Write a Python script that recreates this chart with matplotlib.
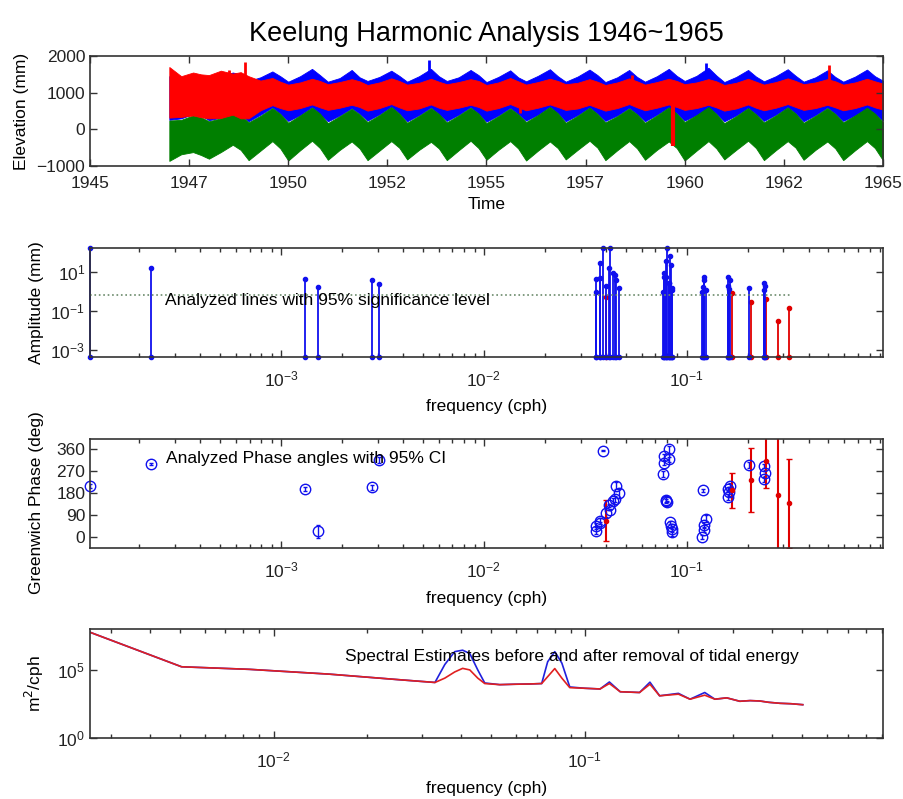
import matplotlib
matplotlib.use("Agg")
from matplotlib import pyplot as plt
from matplotlib.ticker import FixedLocator, NullLocator, LogLocator, NullFormatter

plt.rcParams["font.family"] = ["Liberation Sans", "DejaVu Sans"]
plt.rcParams["font.size"] = 12.5

BLUE = "#0000ff"
GREEN = "#007f00"
RED = "#ff0000"
AXIS = "#333333"

# =========================
# Hourly elevation record, drawn as envelopes (upper/lower) per season
# =========================

env_years = list(range(1947, 1965))
env_phase = [0.0, 0.3, 0.6, 0.8]

# observed elevation (blue)
obs_hi = [
    [1450, 1400, 1480, 1420], [1380, 1450, 1550, 1500], [1320, 1420, 1580, 1450],
    [1300, 1450, 1650, 1480], [1300, 1400, 1620, 1420], [1320, 1430, 1600, 1460],
    [1300, 1450, 1650, 1450], [1320, 1420, 1620, 1480], [1290, 1430, 1610, 1420],
    [1310, 1460, 1640, 1450], [1300, 1440, 1630, 1480], [1290, 1420, 1620, 1430],
    [1300, 1450, 1650, 1460], [1320, 1460, 1680, 1470], [1290, 1430, 1620, 1440],
    [1310, 1450, 1640, 1460], [1300, 1420, 1610, 1430], [1300, 1440, 1630, 1450],
]
obs_hi_end = 1330
obs_lo = [
    [260, 300, 420, 380], [250, 320, 480, 400], [220, 400, 600, 430],
    [230, 390, 610, 420], [220, 380, 580, 430], [240, 410, 620, 440],
    [220, 390, 600, 420], [230, 400, 610, 430], [210, 380, 590, 420],
    [240, 400, 620, 440], [220, 390, 600, 430], [230, 380, 590, 420],
    [220, 400, 610, 440], [240, 390, 600, 430], [220, 380, 590, 420],
    [230, 400, 610, 440], [220, 390, 600, 430], [230, 380, 590, 420],
]
obs_lo_end = 240

# residual (green)
res_hi = [
    [240, 260, 380, 330], [220, 300, 450, 380], [190, 370, 580, 420],
    [180, 380, 595, 430], [170, 360, 560, 410], [200, 390, 610, 430],
    [180, 370, 580, 420], [190, 380, 590, 430], [170, 360, 570, 410],
    [200, 390, 610, 440], [180, 370, 590, 420], [190, 360, 570, 410],
    [180, 380, 600, 430], [200, 390, 610, 420], [170, 360, 580, 410],
    [190, 380, 600, 430], [180, 370, 580, 420], [190, 380, 590, 430],
]
res_hi_end = 200
res_lo = [
    [-860, -680, -620, -700], [-800, -620, -420, -560], [-840, -580, -320, -520],
    [-850, -570, -310, -510], [-830, -560, -330, -520], [-840, -580, -320, -500],
    [-820, -560, -340, -520], [-840, -570, -310, -510], [-830, -560, -320, -520],
    [-850, -580, -330, -510], [-820, -560, -310, -500], [-840, -570, -320, -520],
    [-830, -560, -330, -510], [-850, -580, -320, -520], [-820, -560, -310, -510],
    [-840, -570, -320, -500], [-830, -560, -330, -520], [-840, -570, -320, -510],
]
res_lo_end = -840

# predicted / filtered (red)
prd_hi = [
    [1700, 1450, 1550, 1500], [1480, 1600, 1520, 1560], [1450, 1330, 1400, 1300],
    [1220, 1280, 1380, 1320], [1230, 1290, 1370, 1310], [1210, 1280, 1390, 1320],
    [1220, 1270, 1380, 1300], [1230, 1290, 1370, 1320], [1210, 1280, 1400, 1310],
    [1220, 1290, 1380, 1320], [1230, 1270, 1370, 1300], [1210, 1280, 1390, 1310],
    [1220, 1290, 1380, 1320], [1230, 1280, 1370, 1310], [1210, 1270, 1380, 1300],
    [1220, 1290, 1390, 1320], [1230, 1280, 1370, 1310], [1220, 1280, 1380, 1310],
]
prd_hi_end = 1250
prd_lo = [
    [320, 340, 380, 330], [300, 310, 400, 300], [300, 520, 660, 580],
    [520, 580, 680, 600], [530, 590, 670, 610], [510, 580, 690, 600],
    [520, 570, 680, 590], [530, 590, 670, 610], [510, 580, 690, 600],
    [520, 590, 680, 610], [530, 570, 670, 590], [510, 580, 690, 600],
    [520, 590, 680, 610], [530, 580, 670, 600], [510, 570, 680, 590],
    [520, 590, 690, 610], [530, 580, 670, 600], [520, 580, 680, 600],
]
prd_lo_end = 540

# short events in the record
spike_t = [1953.55, 1960.55, 1948.9, 1948.5, 1955.85, 1958.66, 1959.7, 1963.65]
spike_lo = [1500, 1500, 1300, 1300, 450, 1200, -450, 1200]
spike_hi = [1900, 1800, 1850, 1620, 700, 1480, 700, 1750]
spike_series = ["obs", "obs", "prd", "prd", "prd", "prd", "prd", "prd"]

year_ticks = [1945, 1947.5, 1950, 1952.5, 1955, 1957.5, 1960, 1962.5, 1965]
year_labels = ["1945", "1947", "1950", "1952", "1955", "1957", "1960", "1962", "1965"]

# =========================
# Constituents: frequency (cph), amplitude (mm), Greenwich phase and 95% CI (deg)
# =========================

names = ["SA", "SSA", "MSM", "MM", "MSF", "MF",
         "2Q1", "SIG1", "Q1", "RHO1", "O1", "BET1", "NO1", "P1", "K1", "J1", "SO1", "OO1", "UPS1",
         "EPS2", "2N2", "MU2", "N2", "NU2", "M2", "LDA2", "L2", "S2", "K2", "MSN2", "ETA2",
         "MO3", "M3", "SO3", "MK3", "SK3",
         "MN4", "M4", "SN4", "MS4", "S4",
         "2MK5", "2SK5",
         "2MN6", "M6", "2MS6", "2SM6",
         "3MK7", "M8"]
freq = [0.0001141, 0.0002282, 0.0013098, 0.0015122, 0.0028219, 0.0030501,
        0.0357064, 0.0359087, 0.0372185, 0.0374209, 0.0387307, 0.0400404, 0.0402686,
        0.0415526, 0.0417807, 0.0432929, 0.0446027, 0.0448308, 0.0463430,
        0.0761773, 0.0774871, 0.0776895, 0.0789992, 0.0792016, 0.0805114, 0.0818212,
        0.0820236, 0.0833333, 0.0835615, 0.0848455, 0.0850736,
        0.1192421, 0.1207671, 0.1220640, 0.1222921, 0.1251141,
        0.1595106, 0.1610228, 0.1623326, 0.1638447, 0.1666667,
        0.2028035, 0.2084474,
        0.2400221, 0.2415342, 0.2443561, 0.2471781,
        0.2833149, 0.3220456]
amp = [175, 17.3, 4.5, 1.8, 4.1, 2.6,
       1.0, 4.3, 31, 4.9, 175, 2.0, 0.54, 16, 170, 8.9, 7.2, 4.0, 1.5,
       1.0, 5.5, 8.9, 40, 5.5, 172, 2.7, 2.7, 70, 24, 1.2, 1.6,
       1.0, 1.8, 4.0, 5.9, 1.3,
       2.0, 5.9, 1.4, 4.0, 0.9,
       1.5, 0.30,
       1.2, 2.9, 1.95, 0.45,
       0.03, 0.14]
phase = [210, 299, 197, 23, 204, 315,
         26, 44, 57, 67, 353, 100, 67, 130, 112, 148, 155, 209, 178,
         257, 304, 331, 148, 152, 145, 358, 318, 60, 46, 19, 33,
         0, 190, 48, 30, 75,
         163, 197, 183, 209, 190,
         293, 234,
         236, 291, 263, 311,
         171, 137]
phase_ci = [8, 3, 8, 25, 10, 12,
            15, 12, 5, 12, 3, 20, 85, 6, 2, 10, 12, 14, 18,
            12, 10, 8, 6, 12, 2, 14, 10, 5, 8, 14, 12,
            10, 6, 12, 10, 15,
            12, 8, 15, 10, 70,
            12, 131,
            10, 8, 12, 110,
            250, 182]
significant = [True] * 12 + [False] + [True] * 27 + [False, True, False, True, True, True, False, False, False]

sig_freq = [0.0001141, 0.33]
sig_level = [0.72, 0.72]

# =========================
# Spectral estimates (m^2/cph) before and after removing the tides
# =========================

spec_f = [0.00257, 0.00506, 0.00838, 0.0151, 0.0254, 0.0330, 0.0355, 0.0382, 0.0405,
          0.0427, 0.0453, 0.0477, 0.0533, 0.0596, 0.0666, 0.0727, 0.0760, 0.0801,
          0.0844, 0.0895, 0.100, 0.112, 0.120, 0.130, 0.150, 0.162, 0.174, 0.200,
          0.218, 0.243, 0.262, 0.286, 0.315, 0.340, 0.365, 0.390, 0.424, 0.460, 0.502]
spec_before = [5.8e7, 1.7e5, 1.1e5, 4.9e4, 1.9e4, 1.2e4, 2.5e5, 2.2e6, 2.8e6,
               1.6e6, 1.0e5, 1.1e4, 8.3e3, 8.9e3, 9.3e3, 1.0e4, 4.0e5, 2.2e6,
               3.2e5, 5.6e3, 4.5e3, 4.0e3, 1.3e4, 2.5e3, 2.2e3, 1.26e4, 1.26e3, 1.9e3,
               710, 2.2e3, 710, 890, 500, 560, 525, 420, 355, 330, 280]
spec_after = [5.8e7, 1.7e5, 1.1e5, 4.9e4, 1.9e4, 1.2e4, 2.5e4, 7.1e4, 1.3e5,
              1.0e5, 2.5e4, 1.0e4, 8.3e3, 8.9e3, 9.3e3, 1.0e4, 3.2e4, 1.26e5,
              2.5e4, 5.0e3, 4.5e3, 4.0e3, 1.0e4, 2.5e3, 2.2e3, 8.9e3, 1.26e3, 1.66e3,
              710, 1.4e3, 710, 890, 500, 560, 525, 420, 355, 330, 280]


def flatten(rows, last):
    return [v for row in rows for v in row] + [last]


t_env = [yr + s for yr in env_years for s in env_phase] + [1965.0]


def style_axes(ax):
    for sp in ax.spines.values():
        sp.set_color(AXIS)
        sp.set_linewidth(1.2)
    ax.tick_params(which="both", direction="in", top=True, right=True,
                   colors=AXIS, labelcolor="#222222")
    ax.tick_params(which="major", length=5, width=1)
    ax.tick_params(which="minor", length=3, width=1)


fig = plt.figure(figsize=(9.04, 7.99), dpi=100)
left, width = 0.0996, 0.877
ax1 = fig.add_axes([left, 0.7922, width, 0.1377])
ax2 = fig.add_axes([left, 0.5532, width, 0.1364])
ax3 = fig.add_axes([left, 0.3141, width, 0.1364])
ax4 = fig.add_axes([left, 0.0763, width, 0.1364])

# ---- elevation ----
ax1.fill_between(t_env, flatten(obs_lo, obs_lo_end), flatten(obs_hi, obs_hi_end),
                 color=BLUE, lw=0.6, edgecolor=BLUE)
for t, lo, hi, s in zip(spike_t, spike_lo, spike_hi, spike_series):
    if s == "obs":
        ax1.vlines(t, lo, hi, colors=BLUE, lw=2)
ax1.fill_between(t_env, flatten(res_lo, res_lo_end), flatten(res_hi, res_hi_end),
                 color=GREEN, lw=0.6, edgecolor=GREEN)
ax1.fill_between(t_env, flatten(prd_lo, prd_lo_end), flatten(prd_hi, prd_hi_end),
                 color=RED, lw=0.6, edgecolor=RED)
for t, lo, hi, s in zip(spike_t, spike_lo, spike_hi, spike_series):
    if s == "prd":
        ax1.vlines(t, lo, hi, colors=RED, lw=3 if lo < 0 else 2)
ax1.set_xlim(1945, 1965)
ax1.set_ylim(-1000, 2000)
ax1.xaxis.set_major_locator(FixedLocator(year_ticks))
ax1.set_xticklabels(year_labels)
ax1.set_yticks([-1000, 0, 1000, 2000])
ax1.set_xlabel("Time")
ax1.set_ylabel("Elevation (mm)")
ax1.xaxis.set_label_coords(0.5, -0.28)
ax1.yaxis.set_label_coords(-0.077, 0.5)
style_axes(ax1)
ax1.tick_params(axis="x", pad=7)
ax1.set_title("Keelung Harmonic Analysis 1946~1965", fontsize=19.5, pad=11)

# ---- amplitude ----
amp_floor = 4.5e-4
for f, a, s in zip(freq, amp, significant):
    if not s:
        ax2.plot([f, f], [amp_floor, a], "-", color="#e00000", lw=1.3,
                 marker=".", ms=6, clip_on=False)
for f, a, s in zip(freq, amp, significant):
    if s:
        ax2.plot([f, f], [amp_floor, a], "-", color="#1010ee", lw=1.3,
                 marker=".", ms=6, clip_on=False)
ax2.plot(sig_freq, sig_level, ":", color="#6b8a6b", lw=1.2)
ax2.set_xscale("log")
ax2.set_yscale("log")
ax2.set_xlim(1.141e-4, 0.93)
ax2.set_ylim(amp_floor, 178)
ax2.yaxis.set_major_locator(FixedLocator([1e-3, 1e-1, 1e1]))
ax2.yaxis.set_minor_locator(NullLocator())
ax2.text(2.67e-4, 0.37, "Analyzed lines with 95% significance level", va="center")
ax2.set_xlabel("frequency (cph)")
ax2.set_ylabel("Amplitude (mm)")
ax2.xaxis.set_label_coords(0.5, -0.39)
ax2.yaxis.set_label_coords(-0.058, 0.5)
style_axes(ax2)

# ---- phase ----
fb = [f for f, s in zip(freq, significant) if s]
pb = [p for p, s in zip(phase, significant) if s]
eb = [e for e, s in zip(phase_ci, significant) if s]
fr = [f for f, s in zip(freq, significant) if not s]
pr = [p for p, s in zip(phase, significant) if not s]
er = [e for e, s in zip(phase_ci, significant) if not s]
cont = ax3.errorbar(fb, pb, yerr=eb, fmt="o", mfc="none", mec="#1010ee", ecolor="#1010ee",
                    ms=7.5, mew=1, elinewidth=1, capsize=1.5)
cont[0].set_clip_on(False)
ax3.errorbar(fr, pr, yerr=er, fmt=".", color="#e00000", ecolor="#e00000",
             ms=6, elinewidth=1.5, capsize=2)
ax3.set_xscale("log")
ax3.set_xlim(1.141e-4, 0.93)
ax3.set_ylim(-45, 400)
ax3.set_yticks([0, 90, 180, 270, 360])
ax3.text(2.7e-4, 320, "Analyzed Phase angles with 95% CI", va="center")
ax3.set_xlabel("frequency (cph)")
ax3.set_ylabel("Greenwich Phase (deg)")
ax3.xaxis.set_label_coords(0.5, -0.39)
ax3.yaxis.set_label_coords(-0.058, 0.42)
style_axes(ax3)

# ---- spectrum ----
ax4.plot(spec_f, spec_before, color="#2020dd", lw=1.2)
ax4.plot(spec_f, spec_after, color="#e02020", lw=1.2)
ax4.set_xscale("log")
ax4.set_yscale("log")
ax4.set_xlim(0.00257, 0.908)
ax4.set_ylim(1, 1e8)
ax4.yaxis.set_major_locator(FixedLocator([1, 1e5]))
ax4.yaxis.set_minor_locator(NullLocator())
ax4.text(0.0169, 8.9e5, "Spectral Estimates before and after removal of tidal energy", va="center")
ax4.set_xlabel("frequency (cph)")
ax4.set_ylabel("m$^2$/cph")
ax4.xaxis.set_label_coords(0.5, -0.39)
ax4.yaxis.set_label_coords(-0.055, 0.5)
style_axes(ax4)

for ax in (ax2, ax3, ax4):
    ax.xaxis.set_major_locator(LogLocator(base=10, numticks=12))
    ax.xaxis.set_minor_locator(LogLocator(base=10, subs=range(2, 10), numticks=12))
    ax.xaxis.set_minor_formatter(NullFormatter())
    ax.tick_params(axis="x", pad=9)

fig.savefig("out.png", dpi=100)
